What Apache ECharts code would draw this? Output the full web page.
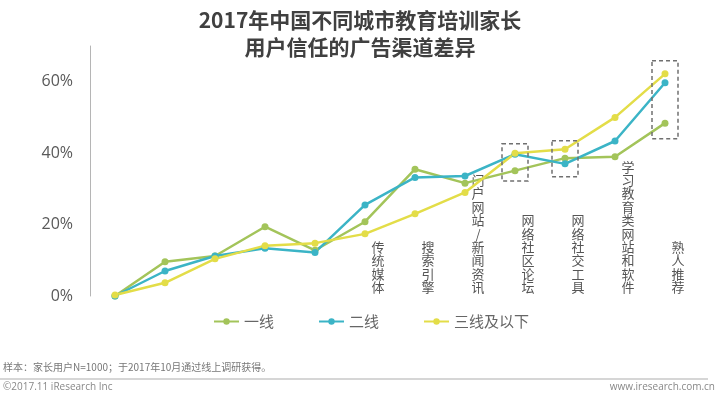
<!DOCTYPE html>
<html>
<head>
<meta charset="utf-8">
<script src="https://cdn.jsdelivr.net/npm/echarts@6/dist/echarts.min.js"></script>
<style>
  html, body { margin: 0; padding: 0; background: #fff; }
  #main { width: 720px; height: 398px; }
</style>
</head>
<body>
<div id="main"></div>
<script>
// 渠道（前五个在原图中没有标注）
var categories = ['', '', '', '', '', '传统媒体', '搜索引擎', '门户网站/新闻资讯', '网络社区论坛', '网络社交工具', '学习教育类网站和软件', '熟人推荐'];
var seriesNames = ['一线', '二线', '三线及以下'];
var tier1 = [0, 9.6, 11.2, 19.4, 12.8, 20.8, 35.5, 31.6, 35.1, 38.6, 39.0, 48.4];
var tier2 = [0, 7.0, 11.2, 13.4, 12.2, 25.5, 33.2, 33.6, 39.7, 37.0, 43.4, 59.7];
var tier3 = [0.3, 3.7, 10.4, 14.1, 14.8, 17.4, 23.0, 29.0, 40.0, 41.1, 50.0, 62.2];
var yTicks = [0, 20, 40, 60];
// 虚线框：类目下标 + 上下范围(%)
var boxes = [
    {idx: 8, lo: 32.2, hi: 42.6},
    {idx: 9, lo: 33.4, hi: 43.5},
    {idx: 11, lo: 44.0, hi: 65.9}
];

var colors = ['#a3c45a', '#3bb4c6', '#e3dd48'];
var cjk = '"Noto Sans CJK SC", sans-serif';

function makeSeries(name, data, i) {
    return {
        name: name,
        type: 'line',
        data: data,
        symbol: 'circle',
        symbolSize: 7,
        lineStyle: {width: 2.5, color: colors[i]},
        itemStyle: {color: colors[i]}
    };
}

var myChart = echarts.init(document.getElementById('main'));
myChart.setOption({
    animation: false,
    title: {
        text: '2017年中国不同城市教育培训家长\n用户信任的广告渠道差异',
        left: 'center',
        top: 2,
        textStyle: {
            fontFamily: cjk,
            fontSize: 21,
            fontWeight: 'bold',
            color: '#404040',
            lineHeight: 27
        }
    },
    legend: {
        data: seriesNames,
        left: 208,
        top: 309,
        itemWidth: 25,
        itemHeight: 8,
        itemGap: 44,
        textStyle: {fontFamily: cjk, fontSize: 15, color: '#666'}
    },
    grid: {left: 90, right: 30, top: 46, bottom: 102},
    xAxis: {
        type: 'category',
        data: categories,
        boundaryGap: true,
        axisLine: {show: false},
        axisTick: {show: false},
        axisLabel: {
            inside: true,
            interval: 0,
            margin: 2,
            fontFamily: cjk,
            fontSize: 13,
            lineHeight: 13.4,
            color: '#555',
            padding: [0, 0, 0, 26],
            formatter: function (v) { return v.split('').join('\n'); }
        }
    },
    yAxis: {
        type: 'value',
        min: yTicks[0],
        max: 70,
        interval: 20,
        splitLine: {show: false},
        axisTick: {show: false},
        axisLine: {show: true, lineStyle: {color: '#b5b5b5', width: 1}},
        axisLabel: {
            showMaxLabel: false,
            margin: 17,
            fontFamily: '"Open Sans", sans-serif',
            fontSize: 16,
            color: '#595959',
            formatter: '{value}%'
        }
    },
    series: [
        makeSeries(seriesNames[0], tier1, 0),
        makeSeries(seriesNames[1], tier2, 1),
        makeSeries(seriesNames[2], tier3, 2)
    ]
});

// 虚线框与页脚
var graphics = boxes.map(function (b) {
    var top = myChart.convertToPixel({gridIndex: 0}, [b.idx, b.hi]);
    var bot = myChart.convertToPixel({gridIndex: 0}, [b.idx, b.lo]);
    return {
        type: 'rect',
        shape: {x: top[0] - 13, y: top[1], width: 26, height: bot[1] - top[1]},
        style: {fill: 'none', stroke: '#707070', lineWidth: 1.5, lineDash: [4, 3]},
        z: 10
    };
});
graphics.push(
    {
        type: 'text', left: 3, top: 362,
        style: {text: '样本：家长用户N=1000；于2017年10月通过线上调研获得。', fontFamily: cjk, fontSize: 10, fill: '#777'}
    },
    {
        type: 'line',
        shape: {x1: 0, y1: 379, x2: 708, y2: 379},
        style: {stroke: '#c8c8c8', lineWidth: 1.5}
    },
    {
        type: 'text', left: 3, top: 382,
        style: {text: '©2017.11 iResearch Inc', fontFamily: '"Open Sans", sans-serif', fontSize: 10, fill: '#888'}
    },
    {
        type: 'text', right: 5, top: 382,
        style: {text: 'www.iresearch.com.cn', fontFamily: '"Open Sans", sans-serif', fontSize: 10, fill: '#888'}
    }
);
myChart.setOption({graphic: graphics});
</script>
</body>
</html>
